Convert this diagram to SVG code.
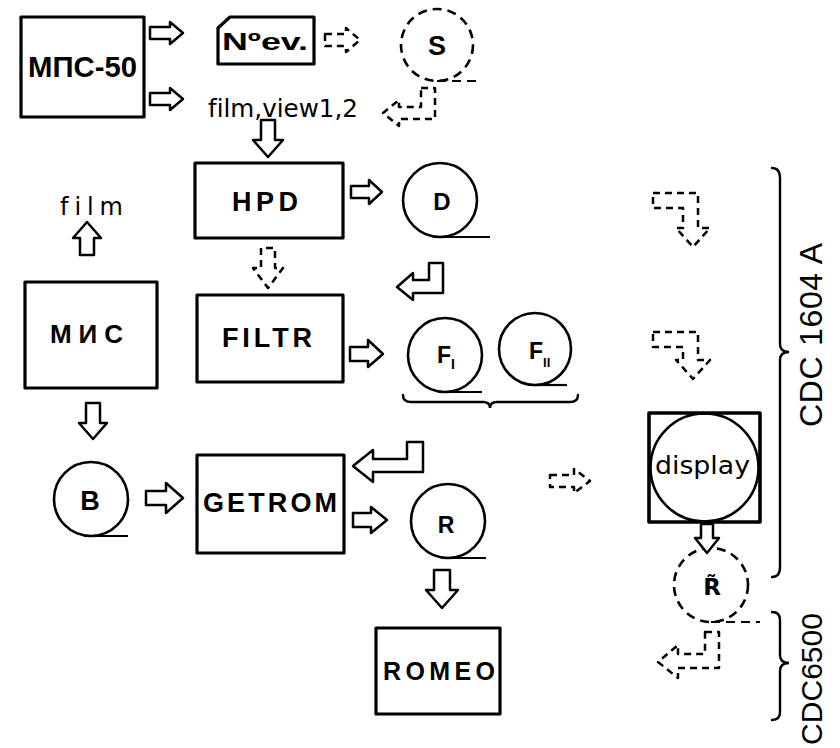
<svg xmlns="http://www.w3.org/2000/svg" width="840" height="748" viewBox="0 0 840 748">
<style>
.box{fill:none;stroke:#000;stroke-width:3.2;stroke-linejoin:round}
.circ{fill:none;stroke:#000;stroke-width:2.6}
.dcirc{fill:none;stroke:#000;stroke-width:2.6;stroke-dasharray:9 6}
.tape{fill:none;stroke:#000;stroke-width:2.2}
.dtape{fill:none;stroke:#000;stroke-width:2.2;stroke-dasharray:9 6}
.arr{fill:#fff;stroke:#000;stroke-width:2.5;stroke-linejoin:round}
.darr{fill:#fff;stroke:#000;stroke-width:2.5;stroke-linejoin:round;stroke-dasharray:7 5}
.brace{fill:none;stroke:#000;stroke-width:2.4;stroke-linecap:round}
text{font-family:"Liberation Sans","DejaVu Sans",sans-serif;font-weight:bold;fill:#000;font-variant-ligatures:none}
.lbl{font-size:27px}
.cl{text-anchor:middle}
.med{font-family:"DejaVu Sans",sans-serif;font-weight:normal}
.side{font-weight:normal;text-anchor:middle}
</style>
<rect width="840" height="748" fill="#fff"/>

<g id="mps50">
<rect class="box" x="21" y="17" width="123" height="100"/>
<text x="28" y="77" style="font-size:30px" textLength="109" lengthAdjust="spacingAndGlyphs">МПС-50</text>
</g>
<g id="nev">
<path class="box" d="M230,17 H314 V64 H218 V28 Z"/>
<text x="222" y="50" style="font-size:24px" textLength="86" lengthAdjust="spacingAndGlyphs">Nºev.</text>
</g>
<g id="S">
<circle class="dcirc" cx="437" cy="45" r="36"/>
<line class="dtape" x1="437" y1="81" x2="476" y2="81"/>
<text class="cl" x="437" y="55" style="font-size:27px">S</text>
</g>
<g id="filmview">
<text class="med" x="208" y="117" style="font-size:24px" textLength="150" lengthAdjust="spacingAndGlyphs">film,view1,2</text>
</g>
<g id="HPD">
<rect class="box" x="195" y="163" width="148" height="75"/>
<text class="lbl" x="232" y="211" textLength="66" lengthAdjust="spacing">HPD</text>
</g>
<g id="D">
<circle class="circ" cx="440" cy="200" r="37"/>
<line class="tape" x1="440" y1="237" x2="490" y2="237"/>
<text class="cl" x="442" y="210" style="font-size:24px">D</text>
</g>
<g id="FILTR">
<rect class="box" x="197" y="295" width="146" height="87"/>
<text class="lbl" x="222" y="347" textLength="90" lengthAdjust="spacing">FILTR</text>
</g>
<g id="FI">
<circle class="circ" cx="445" cy="355" r="37"/>
<line class="tape" x1="445" y1="392" x2="482" y2="392"/>
<text x="437" y="363" style="font-size:23px">F<tspan style="font-size:14px" dy="6">I</tspan></text>
</g>
<g id="FII">
<circle class="circ" cx="535" cy="349" r="36"/>
<line class="tape" x1="535" y1="385" x2="567" y2="385"/>
<text x="529" y="359" style="font-size:23px">F<tspan style="font-size:13px" dy="8">II</tspan></text>
</g>
<g id="MIS">
<rect class="box" x="25" y="282" width="132" height="106"/>
<text x="50" y="343" style="font-size:26px" textLength="73" lengthAdjust="spacing">МИС</text>
</g>
<g id="film">
<text class="med" x="60" y="215" style="font-size:24px" textLength="63" lengthAdjust="spacing">film</text>
</g>
<g id="B">
<circle class="circ" cx="91" cy="499" r="37"/>
<line class="tape" x1="91" y1="536" x2="128" y2="536"/>
<text class="cl" x="90" y="510" style="font-size:27px">B</text>
</g>
<g id="GETROM">
<rect class="box" x="197" y="455" width="147" height="98"/>
<text class="lbl" x="203" y="512" textLength="134" lengthAdjust="spacing">GETROM</text>
</g>
<g id="R">
<circle class="circ" cx="448" cy="521" r="37"/>
<line class="tape" x1="448" y1="558" x2="486" y2="558"/>
<text class="cl" x="446" y="533" style="font-size:23px">R</text>
</g>
<g id="ROMEO">
<rect class="box" x="376" y="628" width="124" height="86"/>
<text x="383" y="680" style="font-size:25px" textLength="112" lengthAdjust="spacing">ROMEO</text>
</g>
<g id="display">
<rect class="box" x="649" y="413" width="111" height="109" style="stroke-width:3.6"/>
<circle class="circ" cx="704.5" cy="467.5" r="54"/>
<text class="med" x="655" y="474" style="font-size:25px" textLength="95" lengthAdjust="spacingAndGlyphs">display</text>
</g>
<g id="Rtilde">
<circle class="dcirc" cx="711" cy="585" r="37"/>
<line class="dtape" x1="711" y1="622" x2="760" y2="622"/>
<text class="cl" x="712" y="595" style="font-size:23px;font-family:'DejaVu Sans',sans-serif">R̃</text>
</g>

<g id="connectors">
<path class="arr" d="M150,27 H170 V22 L183,33 L170,44 V39 H150 Z"/>
<path class="arr" d="M150,93 H170 V88 L183,99 L170,110 V105 H150 Z"/>
<path class="darr" d="M325,34 H346 V28 L360,40 L346,52 V46 H325 Z"/>
<path class="darr" d="M421,88 H435 V119 H399 V126 L383,113 L399,100 V107 H421 Z"/>
<path class="arr" d="M261,120 V140 H253 L268,157 L283,140 H275 V120 Z"/>
<path class="arr" d="M351,186 H369 V180 L382,192 L369,204 V198 H351 Z"/>
<path class="darr" d="M261,248 V268 H253 L268,288 L283,268 H275 V248 Z"/>
<path class="arr" d="M429,263 H443 V293 H413 V300 L397,287 L413,273 V280 H429 Z"/>
<path class="arr" d="M350,347 H368 V340 L383,354 L368,367 V361 H350 Z"/>
<path class="arr" d="M80,255 V238 H73 L87,222 L101,238 H94 V255 Z"/>
<path class="arr" d="M86,403 V423 H79 L93,439 L107,423 H100 V403 Z"/>
<path class="arr" d="M146,491 H166 V483 L183,498 L166,513 V505 H146 Z"/>
<path class="arr" d="M407,442 H423 V472 H373 V482 L353,466 L373,450 V459 H407 Z"/>
<path class="arr" d="M353,513 H371 V507 L387,520 L371,533 V527 H353 Z"/>
<path class="arr" d="M434,570 V590 H426 L442,608 L458,590 H450 V570 Z"/>
<path class="darr" d="M550,475 H574 V469 L590,481 L574,493 V487 H550 Z"/>
<path class="darr" d="M653,193 H698 V228 H710 L693,247 L676,228 H683 V208 H653 Z"/>
<path class="darr" d="M653,332 H698 V360 H710 L693,379 L676,360 H683 V347 H653 Z"/>
<path class="arr" d="M701,524 V538 H695 L707,553 L719,538 H713 V524 Z"/>
<path class="darr" d="M705,632 H719 V668 H678 V678 L658,662 L678,645 V654 H705 Z"/>
</g>

<g id="braces">
<path class="brace" d="M403,395 Q403,402 411,402 H483 Q490,402 490,408 Q490,402 497,402 H570 Q578,402 578,395"/>
<path class="brace" d="M772,168 Q780,168 780,178 V344 Q780,352 789,352 Q780,352 780,360 V567 Q780,577 772,577"/>
<path class="brace" d="M772,612 Q780,612 780,620 V655 Q780,663 789,663 Q780,663 780,671 V712 Q780,720 772,720"/>
<text class="side" transform="translate(822,335) rotate(-90)" style="font-size:32px" textLength="184" lengthAdjust="spacing">CDC 1604 A</text>
<text class="side" transform="translate(822,679) rotate(-90)" style="font-size:30px" textLength="132" lengthAdjust="spacing">CDC6500</text>
</g>
</svg>
